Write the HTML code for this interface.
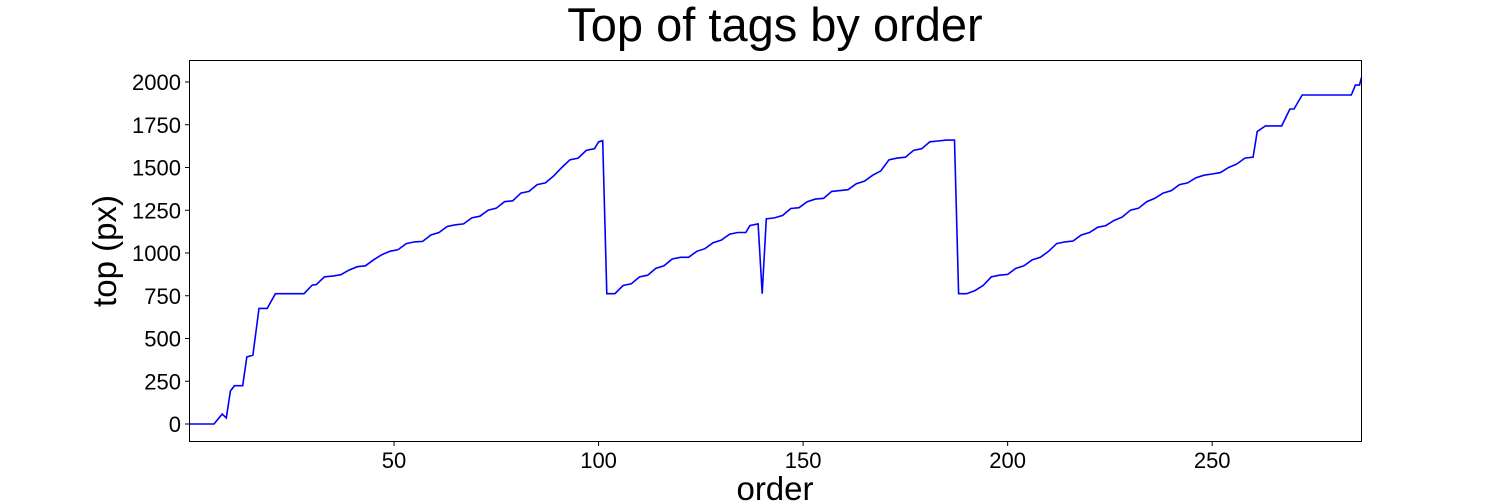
<!DOCTYPE html>
<html><head><meta charset="utf-8"><style>
html,body{margin:0;padding:0;background:#fff;}
svg{display:block;font-family:"Liberation Sans","DejaVu Sans",sans-serif;}
</style></head><body>
<svg id="chart" width="1512" height="504" xmlns="http://www.w3.org/2000/svg">
<text x="775" y="41" font-size="47" text-anchor="middle">Top of tags by order</text>
<g id="ticks"></g>
<path id="line" fill="none" stroke="#0000ff" stroke-width="1.6"/>
<rect x="189.5" y="60.5" width="1172" height="381" fill="none" stroke="#000" stroke-width="1"/>
<text x="775" y="500" font-size="33" text-anchor="middle">order</text>
<text transform="translate(116,251) rotate(-90)" font-size="33" text-anchor="middle">top (px)</text>
</svg>
<script>
const orders=[0,6,8,9,10,11,13,14,15.5,17,19,21,28,30,31,33,35,37,39,41,43,45,47,49,51,53,55,57,59,61,63,65,67,69,71,73,75,77,79,81,83,85,87,89,91,93,95,97,99,100,101,
102,104,106,108,110,112,114,116,118,120,122,124,126,128,130,132,134,136,137,139,140,141,143,145,147,149,151,153,155,157,159,161,163,165,167,169,171,173,175,177,179,181,183,185,187,188,
190,192,194,196,198,200,202,204,206,208,210,212,214,216,218,220,222,224,226,228,230,232,234,236,238,240,242,244,246,248,250,252,254,256,258,260,261,263,267,269,270,272,284,285,286,287];
const tops=[0,0,58,35,193,224,224,392,403,676,676,762,762,812,815,861,865,873,900,920,925,960,990,1010,1020,1055,1065,1068,1105,1120,1155,1165,1170,1205,1215,1250,1262,1300,1305,1350,1360,1400,1410,1450,1500,1545,1555,1600,1610,1650,1657,
762,762,810,820,860,870,910,925,965,975,975,1010,1025,1060,1075,1110,1120,1120,1160,1170,762,1200,1205,1220,1260,1265,1300,1315,1320,1360,1365,1370,1405,1420,1455,1480,1545,1555,1560,1600,1610,1650,1655,1660,1661,762,
762,780,810,860,870,875,910,925,960,975,1010,1055,1065,1070,1105,1120,1150,1160,1190,1210,1250,1262,1300,1320,1350,1365,1400,1410,1440,1455,1462,1470,1500,1520,1555,1560,1710,1743,1743,1842,1842,1924,1924,1982,1982,2027];
const xTicks=[50,100,150,200,250];
const yTicks=[0,250,500,750,1000,1250,1500,1750,2000];
const X0=189.5,X1=1361.5,XMIN=0,XMAX=286.5;
const xs=v=>X0+(v-XMIN)*(X1-X0)/(XMAX-XMIN);
const ys=v=>424-v*0.171;
const NS="http://www.w3.org/2000/svg";
let d="";
orders.forEach((o,i)=>{d+=(i?"L":"M")+Math.min(xs(o),X1).toFixed(1)+","+ys(tops[i]).toFixed(1);});
document.getElementById('line').setAttribute('d',d);
const g=document.getElementById('ticks');
xTicks.forEach(t=>{
 const l=document.createElementNS(NS,'line');
 
 
 l.setAttribute('x1',xs(t));l.setAttribute('x2',xs(t));l.setAttribute('y1',441.5);l.setAttribute('y2',446);l.setAttribute('stroke','#000');
 g.appendChild(l);
 const tx=document.createElementNS(NS,'text');
 
 
 tx.setAttribute('x',xs(t));tx.setAttribute('y',468);tx.setAttribute('font-size','22');tx.setAttribute('text-anchor','middle');
 tx.textContent=t;g.appendChild(tx);
});
yTicks.forEach(t=>{
 const l=document.createElementNS(NS,'line');
 
 
 l.setAttribute('x1',185);l.setAttribute('x2',189.5);l.setAttribute('y1',ys(t));l.setAttribute('y2',ys(t));l.setAttribute('stroke','#000');
 g.appendChild(l);
 const tx=document.createElementNS(NS,'text');
 
 
 tx.setAttribute('x',181);tx.setAttribute('y',ys(t)+8);tx.setAttribute('font-size','22');tx.setAttribute('text-anchor','end');
 tx.textContent=t;g.appendChild(tx);
});
</script>
</body></html>
